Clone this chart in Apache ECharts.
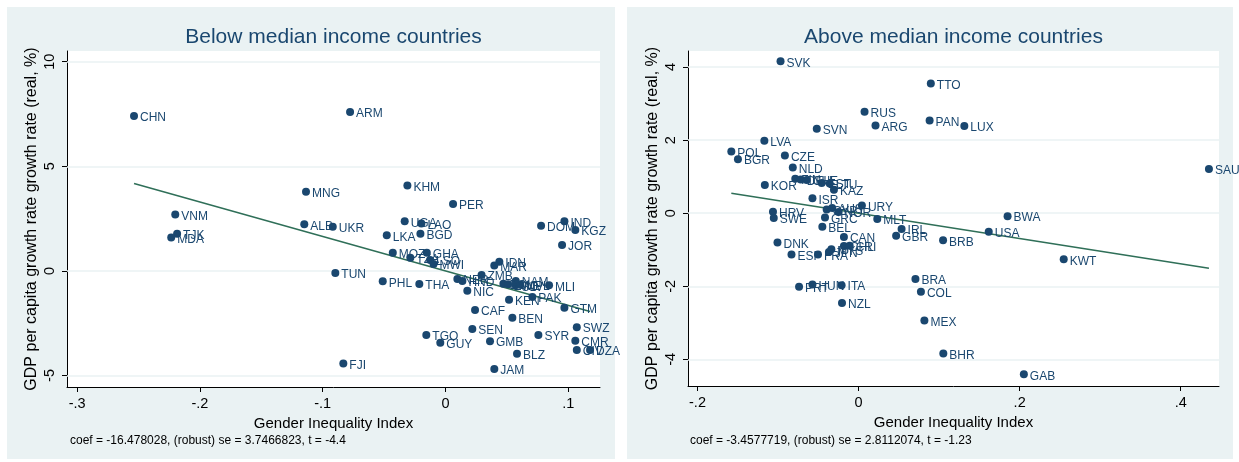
<!DOCTYPE html>
<html>
<head>
<meta charset="utf-8">
<title>Gender inequality and growth</title>
<script src="https://cdn.jsdelivr.net/npm/echarts@6/dist/echarts.min.js"></script>
<style>
  html, body { margin: 0; padding: 0; background: #ffffff; }
  #chart { width: 1239px; height: 462px; }
</style>
</head>
<body>
<div id="chart"></div>
<script>
// ---- Below median income countries (added-variable plot residuals) ----
const belowCodes = ['CHN','ARM','KHM','MNG','PER','VNM','ALB','UKR','UGA','LAO',
  'BGD','LKA','TJK','MDA','DOM','IND','KGZ','JOR','MOZ','GHA',
  'TZA','LSO','MWI','TUN','PHL','THA','NER','HND','NIC','ZMB',
  'IDN','MAR','BOL','ZWE','NAM','SLV','NPL','MLI','KEN','PAK',
  'GTM','CAF','BEN','SEN','TGO','GUY','GMB','SYR','SWZ','CMR',
  'CIV','DZA','BLZ','JAM','FJI'];
const belowGii = [-0.2537,-0.0777,-0.0310,-0.1136,0.0062,-0.2201,-0.1150,-0.0918,-0.0332,-0.0196,
  -0.0204,-0.0478,-0.2186,-0.2234,0.0779,0.0969,0.1058,0.0950,-0.0429,-0.0152,
  -0.0286,-0.0125,-0.0097,-0.0897,-0.0511,-0.0213,0.0097,0.0138,0.0178,0.0294,
  0.0439,0.0398,0.0472,0.0510,0.0573,0.0571,0.0610,0.0844,0.0518,0.0708,
  0.0969,0.0241,0.0545,0.0219,-0.0156,-0.0042,0.0363,0.0757,0.1070,0.1058,
  0.1070,0.1178,0.0583,0.0398,-0.0832];
const belowGrowth = [7.40,7.59,4.08,3.78,3.20,2.69,2.23,2.11,2.37,2.27,
  1.78,1.70,1.78,1.59,2.16,2.37,1.95,1.24,0.87,0.87,
  0.63,0.52,0.33,-0.10,-0.50,-0.63,-0.39,-0.48,-0.95,-0.20,
  0.44,0.26,-0.61,-0.64,-0.48,-0.69,-0.66,-0.69,-1.38,-1.25,
  -1.76,-1.87,-2.24,-2.78,-3.06,-3.43,-3.36,-3.06,-2.69,-3.34,
  -3.78,-3.78,-3.96,-4.69,-4.43];
const belowCoef = -16.478028;
const belowNote = 'coef = -16.478028, (robust) se = 3.7466823, t = -4.4';

// ---- Above median income countries ----
const aboveCodes = ['SVK','TTO','RUS','PAN','LUX','ARG','SVN','LVA','POL','BGR',
  'CZE','NLD','KOR','SAU','FIN','DEU','CHE','EST','LTU','KAZ',
  'ISR','URY','AUS','CYP','NOR','GRC','MLT','HRV','SWE','BEL',
  'IRL','USA','GBR','BRB','CAN','DNK','ESP','FRA','JPN','MYS',
  'CHL','CRI','BWA','KWT','BRA','COL','PRT','HUN','ITA','NZL',
  'MEX','BHR','GAB'];
const aboveGii = [-0.0969,0.0897,0.0074,0.0882,0.1313,0.0210,-0.0519,-0.1170,-0.1580,-0.1498,
  -0.0915,-0.0817,-0.1164,0.4350,-0.0786,-0.0718,-0.0644,-0.0458,-0.0359,-0.0306,
  -0.0573,0.0041,-0.0328,-0.0396,-0.0248,-0.0417,0.0232,-0.1063,-0.1053,-0.0450,
  0.0534,0.1616,0.0466,0.1049,-0.0182,-0.1007,-0.0833,-0.0504,-0.0368,-0.0338,
  -0.0182,-0.0111,0.1850,0.2547,0.0706,0.0774,-0.0739,-0.0573,-0.0211,-0.0206,
  0.0817,0.1052,0.2052];
const aboveGrowth = [4.16,3.55,2.78,2.54,2.39,2.40,2.31,1.98,1.69,1.48,
  1.58,1.25,0.77,1.21,0.945,0.92,0.91,0.83,0.81,0.64,
  0.41,0.21,0.14,0.10,0.03,-0.12,-0.16,0.04,-0.13,-0.37,
  -0.43,-0.51,-0.62,-0.74,-0.65,-0.80,-1.13,-1.13,-1.06,-0.99,
  -0.90,-0.89,-0.08,-1.26,-1.80,-2.15,-2.01,-1.95,-1.97,-2.46,
  -2.94,-3.84,-4.41];
const aboveCoef = -3.4577719;
const aboveNote = 'coef = -3.4577719, (robust) se = 2.8112074, t = -1.23';

// ---- Axis ticks ----
const belowXTicks = [-0.3, -0.2, -0.1, 0, 0.1];
const belowXTickLabels = ['-.3', '-.2', '-.1', '0', '.1'];
const belowYTicks = [-5, 0, 5, 10];
const belowYTickLabels = ['-5', '0', '5', '10'];
const aboveXTicks = [-0.2, 0, 0.2, 0.4];
const aboveXTickLabels = ['-.2', '0', '.2', '.4'];
const aboveYTicks = [-4, -2, 0, 2, 4];
const aboveYTickLabels = ['-4', '-2', '0', '2', '4'];

const titles = ['Below median income countries', 'Above median income countries'];
const xTitle = 'Gender Inequality Index';
const yTitle = 'GDP per capita growth rate growth rate (real, %)';

const NAVY = '#1a476f';
const FIT = '#2f6f58';
const PANEL = '#eaf2f3';
const FONT = '"Liberation Sans", Arial, Helvetica, sans-serif';

function tickFormatter(values, labels) {
  return function (v) {
    const i = values.findIndex(t => Math.abs(t - v) < 1e-9);
    return i >= 0 ? labels[i] : '';
  };
}

function points(xs, ys, codes) {
  return xs.map((x, i) => ({ value: [x, ys[i]], name: codes[i] }));
}

function fitLine(xs, coef) {
  const lo = Math.min(...xs), hi = Math.max(...xs);
  return [[lo, coef * lo], [hi, coef * hi]];
}

function xAxisFor(gridIndex, min, max, ticks, labels) {
  return {
    type: 'value', gridIndex, min, max,
    name: xTitle, nameLocation: 'middle', nameGap: 25,
    nameTextStyle: { fontFamily: FONT, fontSize: 15, color: '#000' },
    axisLine: { show: true, onZero: false, lineStyle: { color: '#000', width: 1 } },
    axisTick: { show: true, length: 5, customValues: ticks, lineStyle: { color: '#000' } },
    axisLabel: { customValues: ticks, margin: 9, fontFamily: FONT, fontSize: 14.5, color: '#000',
      formatter: tickFormatter(ticks, labels) },
    splitLine: { show: false }
  };
}

function yAxisFor(gridIndex, min, max, ticks, labels) {
  return {
    type: 'value', gridIndex, min, max,
    name: yTitle, nameLocation: 'middle', nameGap: 27, nameRotate: 90,
    nameTextStyle: { fontFamily: FONT, fontSize: 16, color: '#000' },
    axisLine: { show: true, onZero: false, lineStyle: { color: '#000', width: 1 } },
    axisTick: { show: true, length: 5, customValues: ticks, lineStyle: { color: '#000' } },
    axisLabel: { customValues: ticks, rotate: 90, margin: 10, fontFamily: FONT, fontSize: 14.5, color: '#000',
      formatter: tickFormatter(ticks, labels) },
    splitLine: { show: false }
  };
}

function scatterSeries(idx, xs, ys, codes, gridTicks) {
  return {
    type: 'scatter', xAxisIndex: idx, yAxisIndex: idx, z: 4,
    symbol: 'circle', symbolSize: 8,
    itemStyle: { color: NAVY, opacity: 1 },
    label: {
      show: true, position: 'right', distance: 2, offset: [0, 2],
      formatter: p => p.name,
      fontFamily: FONT, fontSize: 12, color: NAVY
    },
    emphasis: { disabled: true },
    data: points(xs, ys, codes),
    markLine: {
      silent: true, symbol: 'none', z: 1,
      label: { show: false },
      lineStyle: { color: PANEL, width: 1.6, type: 'solid' },
      data: gridTicks.map(v => ({ yAxis: v }))
    }
  };
}

function fitSeries(idx, xs, coef) {
  return {
    type: 'line', xAxisIndex: idx, yAxisIndex: idx, z: 3,
    showSymbol: false, symbol: 'none',
    lineStyle: { color: FIT, width: 1.5 },
    emphasis: { disabled: true },
    data: fitLine(xs, coef)
  };
}

const chart = echarts.init(document.getElementById('chart'), null, { renderer: 'canvas' });

chart.setOption({
  backgroundColor: '#ffffff',
  animation: false,
  graphic: [
    { type: 'rect', z: -10, silent: true, shape: { x: 7, y: 7, width: 608, height: 452 }, style: { fill: PANEL } },
    { type: 'rect', z: -10, silent: true, shape: { x: 627, y: 7, width: 606, height: 452 }, style: { fill: PANEL } },
    { type: 'text', silent: true, style: { text: titles[0], x: 333.5, y: 37, align: 'center', verticalAlign: 'middle',
      fontFamily: FONT, fontSize: 21, fill: NAVY } },
    { type: 'text', silent: true, style: { text: titles[1], x: 953.5, y: 37, align: 'center', verticalAlign: 'middle',
      fontFamily: FONT, fontSize: 21, fill: NAVY } },
    { type: 'text', silent: true, style: { text: belowNote, x: 70, y: 441, align: 'left', verticalAlign: 'middle',
      fontFamily: FONT, fontSize: 12, fill: '#000' } },
    { type: 'text', silent: true, style: { text: aboveNote, x: 690, y: 441, align: 'left', verticalAlign: 'middle',
      fontFamily: FONT, fontSize: 12, fill: '#000' } }
  ],
  grid: [
    { left: 67, right: 639, top: 51, bottom: 75, show: true, backgroundColor: '#ffffff', borderWidth: 0 },
    { left: 688, right: 20, top: 51, bottom: 76, show: true, backgroundColor: '#ffffff', borderWidth: 0 }
  ],
  xAxis: [
    xAxisFor(0, -0.3083, 0.1259, belowXTicks, belowXTickLabels),
    xAxisFor(1, -0.2118, 0.4475, aboveXTicks, aboveXTickLabels)
  ],
  yAxis: [
    yAxisFor(0, -5.55, 10.51, belowYTicks, belowYTickLabels),
    yAxisFor(1, -4.73, 4.44, aboveYTicks, aboveYTickLabels)
  ],
  series: [
    fitSeries(0, belowGii, belowCoef),
    scatterSeries(0, belowGii, belowGrowth, belowCodes, belowYTicks),
    fitSeries(1, aboveGii, aboveCoef),
    scatterSeries(1, aboveGii, aboveGrowth, aboveCodes, aboveYTicks)
  ]
});
</script>
</body>
</html>
